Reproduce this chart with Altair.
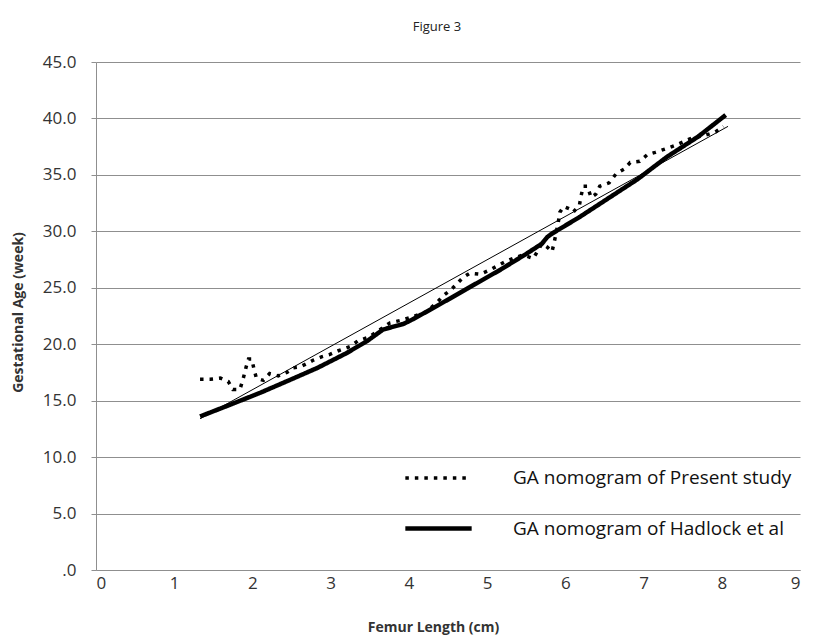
import altair as alt
import pandas as pd

# Present study nomogram (dotted)
present_fl = [1.33, 1.46, 1.59, 1.69, 1.75, 1.84, 1.88, 1.92, 1.95, 1.99, 2.02, 2.05, 2.14, 2.22,
              2.33, 2.44, 2.52, 2.61, 2.70, 2.78, 2.89, 2.99, 3.09, 3.25, 3.35, 3.48, 3.59, 3.76,
              3.89, 4.04, 4.23, 4.36, 4.44, 4.55, 4.69, 4.78, 4.91, 5.04, 5.23, 5.33, 5.46, 5.59,
              5.65, 5.70, 5.77, 5.83, 5.86, 5.91, 5.93, 5.98, 6.05, 6.10, 6.18, 6.20, 6.23, 6.28,
              6.33, 6.39, 6.44, 6.56, 6.65, 6.75, 6.83, 6.95, 7.05, 7.15, 7.28, 7.40, 7.53, 7.63,
              7.78, 7.92, 8.02]
present_ga = [16.9, 16.9, 17.0, 16.7, 16.0, 16.0, 16.9, 18.0, 18.7, 18.7, 17.8, 17.0, 16.8, 17.4,
              17.2, 17.5, 17.9, 18.0, 18.3, 18.6, 18.9, 19.1, 19.4, 19.8, 20.3, 20.6, 21.1, 21.9,
              22.1, 22.4, 22.9, 23.7, 24.3, 24.9, 25.9, 26.3, 26.2, 26.6, 27.3, 27.6, 27.9, 27.6,
              28.3, 28.9, 28.6, 28.2, 29.1, 30.8, 31.7, 32.2, 32.0, 31.7, 32.3, 33.1, 34.0, 34.0,
              33.0, 33.3, 34.0, 34.3, 35.1, 35.5, 36.1, 36.2, 36.8, 37.0, 37.3, 37.6, 38.0, 38.3,
              38.5, 38.8, 39.3]

# Hadlock et al nomogram (thick solid)
hadlock_fl = [1.33, 1.70, 2.10, 2.50, 2.83, 3.20, 3.47, 3.59, 3.67, 3.93, 4.02, 4.31, 4.74,
              5.17, 5.50, 5.70, 5.77, 5.83, 6.19, 6.61, 6.92, 7.30, 7.70, 8.05]
hadlock_ga = [13.6, 14.6, 15.7, 16.9, 17.9, 19.2, 20.3, 20.9, 21.3, 21.8, 22.1, 23.2, 24.9,
              26.6, 28.0, 28.9, 29.5, 29.8, 31.3, 33.2, 34.6, 36.6, 38.4, 40.3]

# Linear trend (thin line)
trend_fl = [1.33, 8.08]
trend_ga = [13.4, 39.3]

S1 = "GA nomogram of Present study"
S2 = "GA nomogram of Hadlock  et al"

df = pd.concat([
    pd.DataFrame({"fl": present_fl, "ga": present_ga, "series": S1, "ord": range(len(present_fl))}),
    pd.DataFrame({"fl": hadlock_fl, "ga": hadlock_ga, "series": S2, "ord": range(len(hadlock_fl))}),
])
trend = pd.DataFrame({"fl": trend_fl, "ga": trend_ga})

FONT = "Open Sans"
GRID = "#8f8f8f"

x = alt.X("fl:Q", scale=alt.Scale(domain=[0, 9], nice=False),
          axis=alt.Axis(title="Femur Length (cm)", values=list(range(10)), grid=False,
                        ticks=False, domainColor=GRID, labelFont=FONT, labelFontSize=17,
                        labelColor="#333333", labelPadding=5, titleFont=FONT, titleFontSize=14,
                        titleFontWeight="bold", titleColor="#333333", titleX=337, titleY=57,
                        titleBaseline="middle"))
y = alt.Y("ga:Q", scale=alt.Scale(domain=[0, 45], nice=False),
          axis=alt.Axis(title="Gestational Age (week)", values=list(range(0, 50, 5)),
                        labelExpr="datum.value == 0 ? '.0' : format(datum.value, '.1f')",
                        grid=True, gridColor=GRID, gridWidth=1, domainColor=GRID,
                        tickColor=GRID, tickSize=5, labelFont=FONT, labelFontSize=17,
                        labelColor="#333333", labelPadding=15, titleFont=FONT,
                        titleFontSize=14, titleFontWeight="bold", titleColor="#333333",
                        titleAngle=-90, titleX=-78, titleY=250, titleAlign="center",
                        titleBaseline="middle"))

lines = alt.Chart(df).mark_line(color="black", strokeCap="butt").encode(
    x=x, y=y, order="ord:Q",
    strokeDash=alt.StrokeDash("series:N",
        scale=alt.Scale(domain=[S1, S2], range=[[3.5, 6], [1, 0]]),
        legend=alt.Legend(title=None, orient="none", legendX=307, legendY=381,
                          symbolType="stroke", symbolSize=4400, symbolStrokeWidth=4.5,
                          symbolStrokeColor="black", labelFont=FONT, labelFontSize=19,
                          labelColor="#111111", labelOffset=39, rowPadding=5,
                          labelLimit=400)),
    strokeWidth=alt.StrokeWidth("series:N",
        scale=alt.Scale(domain=[S1, S2], range=[3.5, 4.5]), legend=None),
)

trend_line = alt.Chart(trend).mark_line(color="black", strokeWidth=1).encode(x=x, y=y)

chart = alt.layer(trend_line, lines).properties(
    width=704, height=508,
    title=alt.TitleParams("Figure 3", font=FONT, fontSize=13, fontWeight="normal",
                          color="#222222", anchor="middle", dx=-11, offset=19),
    autosize=alt.AutoSizeParams(type="none"),
    padding={"left": 88, "top": 54, "right": 14, "bottom": 65},
).configure_view(stroke=None)

chart.save("out.html", embed_options={"renderer": "svg", "actions": False})
